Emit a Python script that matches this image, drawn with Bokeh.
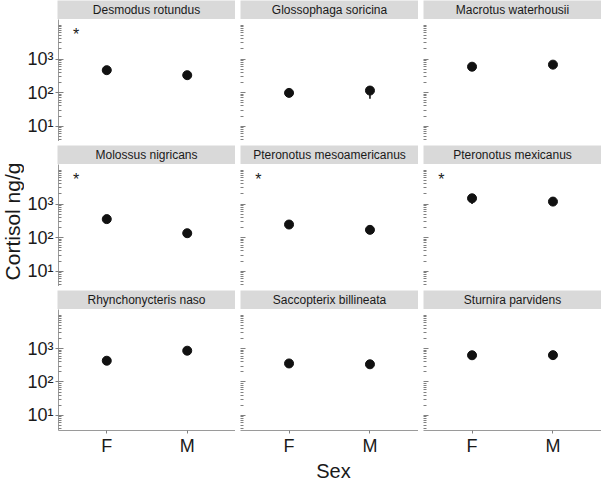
from math import pi
from bokeh.plotting import figure
from bokeh.models import Range1d, FixedTicker, Label
from bokeh.layouts import row, column
from bokeh.embed import file_html
from bokeh.resources import INLINE
from bokeh.core.properties import value

# ---------------- data ----------------
species = ["Desmodus rotundus", "Glossophaga soricina", "Macrotus waterhousii",
           "Molossus nigricans", "Pteronotus mesoamericanus", "Pteronotus mexicanus",
           "Rhynchonycteris naso", "Saccopterix billineata", "Sturnira parvidens"]
sexes = ["F", "M"]
female_mean = [465, 98, 590, 355, 245, 1480, 435, 360, 635]
female_lo = [400, 85, 520, 310, 215, 1000, 380, 315, 560]
female_hi = [540, 112, 670, 405, 280, 1900, 495, 410, 720]
male_mean = [330, 115, 680, 135, 170, 1180, 870, 340, 640]
male_lo = [290, 66, 600, 118, 150, 870, 770, 300, 565]
male_hi = [375, 155, 770, 155, 193, 1450, 985, 385, 725]
significant = [True, False, False, True, True, True, False, False, False]
star_x = 0.62
star_y = 5500
y_ticks = [10, 100, 1000]
y_tick_labels = ["10\u00b9", "10\u00b2", "10\u00b3"]
y_minor = [m * 10 ** k for k in range(0, 4) for m in range(2, 10) if m * 10 ** k >= 4] + [10000]
y_lo, y_hi = 3.5, 15000
x_title = "Sex"
y_title = "Cortisol ng/g"

# ---------------- layout constants ----------------
FW, FH, SH = 178, 122, 19
LEFT0, GAP, VGAP, BOTTOM = 33, 5, 4, 27
TITLE_W, XTITLE_H = 24, 24
FONT = value("Liberation Sans")
AXIS_GRAY = "#9a9a9a"
TEXT_DARK = "#1a1a1a"


def strip(name, c, r):
    left = LEFT0 if c == 0 else GAP
    top = 0 if r == 0 else VGAP
    s = figure(width=left + FW, height=SH + top, x_range=Range1d(0, 1), y_range=Range1d(0, 1),
               x_axis_location=None, y_axis_location=None, toolbar_location=None,
               output_backend="svg", min_border_left=left, min_border_right=0,
               min_border_top=top, min_border_bottom=0, background_fill_color="#d9d9d9",
               border_fill_color="white", outline_line_color=None)
    s.grid.visible = False
    s.text(x=[0.5], y=[0.5], text=[name], text_align="center", text_baseline="middle",
           text_font=FONT, text_font_size="12px", text_color=TEXT_DARK)
    return s


def panel(i, c, r):
    left = LEFT0 if c == 0 else GAP
    bottom = BOTTOM if r == 2 else 0
    p = figure(width=left + FW, height=FH + bottom, x_range=Range1d(0.4, 2.6),
               y_range=Range1d(y_lo, y_hi), y_axis_type="log",
               x_axis_location="below" if r == 2 else None,
               toolbar_location=None, output_backend="svg",
               min_border_left=left, min_border_right=0, min_border_top=0,
               min_border_bottom=bottom, background_fill_color="white",
               border_fill_color="white", outline_line_color=None)
    p.grid.visible = False
    ya = p.yaxis[0]
    ya.ticker = FixedTicker(ticks=y_ticks, minor_ticks=y_minor)
    ya.major_tick_line_color = "#808080"
    ya.minor_tick_line_color = "#808080"
    ya.major_tick_in = 5
    ya.minor_tick_in = 3
    ya.minor_tick_out = 0
    if c == 0:
        ya.axis_line_color = AXIS_GRAY
        ya.major_tick_out = 3
        ya.major_label_overrides = dict(zip(y_ticks, y_tick_labels))
        ya.major_label_text_font = "Liberation Sans"
        ya.major_label_text_font_size = "18px"
        ya.major_label_text_color = TEXT_DARK
        ya.major_label_standoff = 2
    else:
        ya.axis_line_color = None
        ya.major_tick_out = 0
        ya.major_label_overrides = {t: "" for t in y_ticks}
        ya.major_label_standoff = 0
        ya.major_label_text_font_size = "1px"
    if r == 2:
        xa = p.xaxis[0]
        xs = [k + 1 for k in range(len(sexes))]
        xa.ticker = FixedTicker(ticks=xs)
        xa.major_label_overrides = dict(zip(xs, sexes))
        xa.axis_line_color = AXIS_GRAY
        xa.major_tick_line_color = "#808080"
        xa.major_tick_out = 3
        xa.major_tick_in = 0
        xa.minor_tick_line_color = None
        xa.major_label_text_font = "Liberation Sans"
        xa.major_label_text_font_size = "18px"
        xa.major_label_text_color = TEXT_DARK
        xa.major_label_standoff = 2

    xs = [1, 2]
    means = [female_mean[i], male_mean[i]]
    los = [female_lo[i], male_lo[i]]
    his = [female_hi[i], male_hi[i]]
    p.segment(x0=xs, y0=los, x1=xs, y1=his, line_color="#111111", line_width=1.6)
    p.scatter(x=xs, y=means, size=9, fill_color="#111111", line_color="#111111")
    if significant[i]:
        p.text(x=[star_x], y=[star_y], text=["*"], text_align="center", text_baseline="middle",
               text_font=FONT, text_font_size="16px", text_color=TEXT_DARK)
    return p


rows = []
for r in range(3):
    strips = []
    panels = []
    for c in range(3):
        i = r * 3 + c
        strips.append(strip(species[i], c, r))
        panels.append(panel(i, c, r))
    rows.append(row(*strips))
    rows.append(row(*panels))

grid_w = LEFT0 + FW + 2 * (GAP + FW)
grid_h = 3 * (SH + FH) + 2 * VGAP + BOTTOM

xt = figure(width=grid_w, height=XTITLE_H, x_axis_location=None, y_axis_location=None,
            toolbar_location=None, output_backend="svg", min_border=0,
            min_border_left=0, min_border_right=0, min_border_top=0, min_border_bottom=0,
            outline_line_color=None, x_range=Range1d(0, 1), y_range=Range1d(0, 1))
xt.grid.visible = False
xt.add_layout(Label(x=(LEFT0 + grid_w) / 2 + 4, y=XTITLE_H / 2, x_units="screen", y_units="screen",
                    text=x_title, text_align="center", text_baseline="middle",
                    text_font="Liberation Sans", text_font_size="20px", text_color=TEXT_DARK))

total_h = grid_h + XTITLE_H
yt = figure(width=TITLE_W, height=total_h, x_axis_location=None, y_axis_location=None,
            toolbar_location=None, output_backend="svg", min_border=0,
            min_border_left=0, min_border_right=0, min_border_top=0, min_border_bottom=0,
            outline_line_color=None, x_range=Range1d(0, 1), y_range=Range1d(0, 1))
yt.grid.visible = False
mid_center_from_top = SH + FH + VGAP + SH + FH / 2
yt.add_layout(Label(x=TITLE_W / 2, y=total_h - mid_center_from_top + 4, x_units="screen", y_units="screen",
                    angle=pi / 2, text=y_title, text_align="center", text_baseline="middle",
                    text_font="Liberation Sans", text_font_size="21px", text_color=TEXT_DARK))

layout = row(yt, column(*rows, xt))

open("out.html", "w").write(file_html(layout, INLINE))
